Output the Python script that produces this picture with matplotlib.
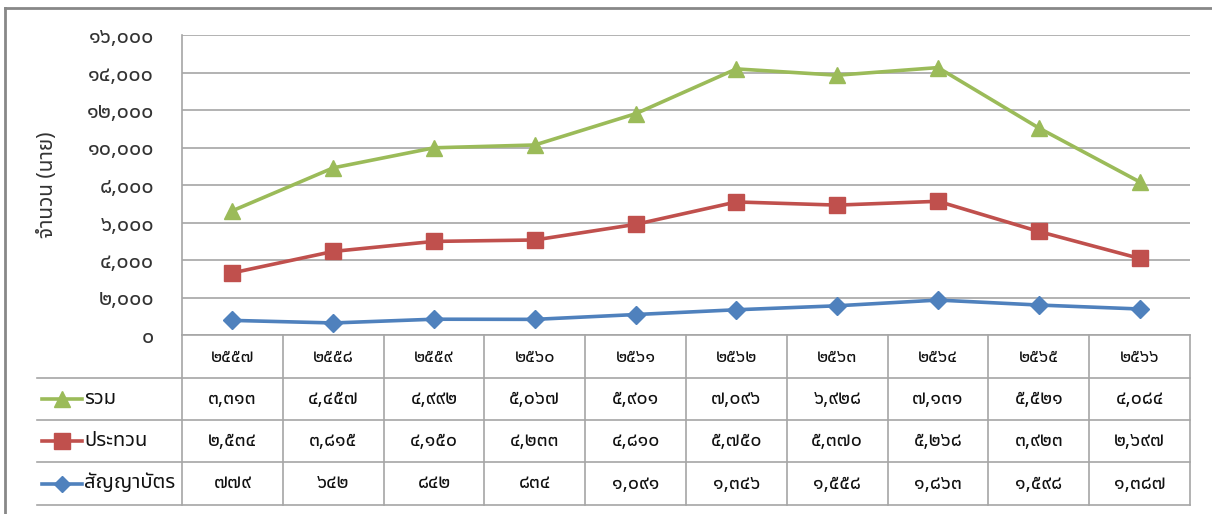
import matplotlib
matplotlib.use("Agg")
import matplotlib.pyplot as plt
from matplotlib import font_manager
from matplotlib.transforms import blended_transform_factory
from matplotlib.ft2font import FT2Font
import numpy as np

# ---------------- data ----------------
years = [2557, 2558, 2559, 2560, 2561, 2562, 2563, 2564, 2565, 2566]
total = [3313, 4457, 4992, 5067, 5901, 7096, 6928, 7131, 5521, 4084]
prathuan = [2534, 3815, 4150, 4233, 4810, 5750, 5370, 5268, 3923, 2697]
sanyabat = [779, 642, 842, 834, 1091, 1346, 1558, 1863, 1598, 1387]
series_names = ["รวม", "ประทวน", "สัญญาบัตร"]
y_ticks = [0, 2000, 4000, 6000, 8000, 10000, 12000, 14000, 16000]
y_label = "จำนวน (นาย)"

# ---------------- fonts ----------------
def find_thai_fonts():
    found = []
    for fe in font_manager.fontManager.ttflist:
        try:
            f = FT2Font(fe.fname)
            if f.get_char_index(0x0E51) and f.get_char_index(0x0E23):
                if fe.name not in found:
                    found.append(fe.name)
        except Exception:
            pass
    return found

thai = find_thai_fonts()
pref = ["Tahoma", "Noto Sans Thai", "Noto Sans Thai UI", "Loma", "Garuda", "Sarabun"]
thai_sorted = [p for p in pref if p in thai] + [t for t in thai if t not in pref]
families = thai_sorted + ["DejaVu Sans"]
plt.rcParams["font.family"] = families

THAI_DIGITS = str.maketrans("0123456789", "๐๑๒๓๔๕๖๗๘๙")
def th(s):
    return str(s).translate(THAI_DIGITS)
def th_num(v):
    return th(f"{v:,}")

# ---------------- figure ----------------
W, H = 1212, 514
fig = plt.figure(figsize=(W / 100, H / 100), dpi=100)
fig.patch.set_facecolor("white")

ov = fig.add_axes([0, 0, 1, 1], zorder=0)
ov.set_xlim(0, W)
ov.set_ylim(H, 0)
ov.axis("off")
ov.patch.set_alpha(0)

x0, x1 = 182, 1190
ytop, ybot = 35, 335
ax = fig.add_axes([x0 / W, (H - ybot) / H, (x1 - x0) / W, (ybot - ytop) / H], zorder=2)
ax.set_facecolor("none")

n = len(years)
xs = np.arange(n)
blue_c = "#4F81BD"
red_c = "#C0504D"
green_c = "#9BBB59"

# stacked line chart
s1 = np.array(sanyabat)
s2 = s1 + np.array(prathuan)
s3 = s2 + np.array(total)
ax.plot(xs, s1, color=blue_c, lw=2.6, marker="D", ms=9, zorder=5)
ax.plot(xs, s2, color=red_c, lw=2.6, marker="s", ms=11, zorder=5)
ax.plot(xs, s3, color=green_c, lw=2.6, marker="^", ms=12, zorder=5)

ax.set_xlim(-0.5, n - 0.5)
ax.set_ylim(0, 16000)
ax.set_yticks(y_ticks)
ax.set_yticklabels([th_num(v) for v in y_ticks], fontsize=15.5, color="#333333")
ax.set_xticks([])
ax.tick_params(axis="y", length=0, pad=20)
ax.grid(axis="y", color="#A6A6A6", lw=1.2)
ax.set_axisbelow(True)
for side in ["top", "right", "bottom"]:
    ax.spines[side].set_visible(False)
ax.spines["left"].set_color("#A6A6A6")
ax.spines["left"].set_linewidth(1.2)
ax.set_ylabel(y_label, fontsize=15, color="#333333")
ax.yaxis.set_label_coords((58 - x0) / (x1 - x0), 0.5)

# ---------------- table ----------------
grey = "#A6A6A6"
row_lines = [335, 378, 420, 462, 505]
tleft = 37
ov.plot([x0, x1], [row_lines[0]] * 2, color=grey, lw=1.2)
for yl in row_lines[1:]:
    ov.plot([tleft, x1], [yl, yl], color=grey, lw=1.2)
bt = blended_transform_factory(ax.transData, ov.transData)
for i in range(n + 1):
    ov.plot([i - 0.5, i - 0.5], [row_lines[0], row_lines[-1]], color=grey, lw=1.2,
            transform=bt)

ymid = [(row_lines[k] + row_lines[k + 1]) / 2 for k in range(4)]
for i, yv in enumerate(years):
    ov.text(i, ymid[0], th(yv), transform=bt, ha="center", va="center",
            fontsize=13, fontweight="bold", color="#111111")
rows = [total, prathuan, sanyabat]
for r, vals in enumerate(rows):
    for i, v in enumerate(vals):
        ov.text(i, ymid[r + 1], th_num(v), transform=bt, ha="center", va="center",
                fontsize=14, fontweight="bold", color="#111111")

keys = [(green_c, "^", 12), (red_c, "s", 11), (blue_c, "D", 8)]
for r, (c, m, ms) in enumerate(keys):
    yy = ymid[r + 1]
    ov.plot([42, 82], [yy, yy], color=c, lw=2.6)
    ov.plot([62], [yy], color=c, marker=m, ms=ms, ls="none")
    ov.text(84, yy, series_names[r], ha="left", va="center", fontsize=14.5,
            color="#111111")

ov.plot([5, W], [7.5, 7.5], color="#888888", lw=2)
ov.plot([5, 5], [7.5, H], color="#888888", lw=2)

fig.savefig("out.png", dpi=100, facecolor="white")
